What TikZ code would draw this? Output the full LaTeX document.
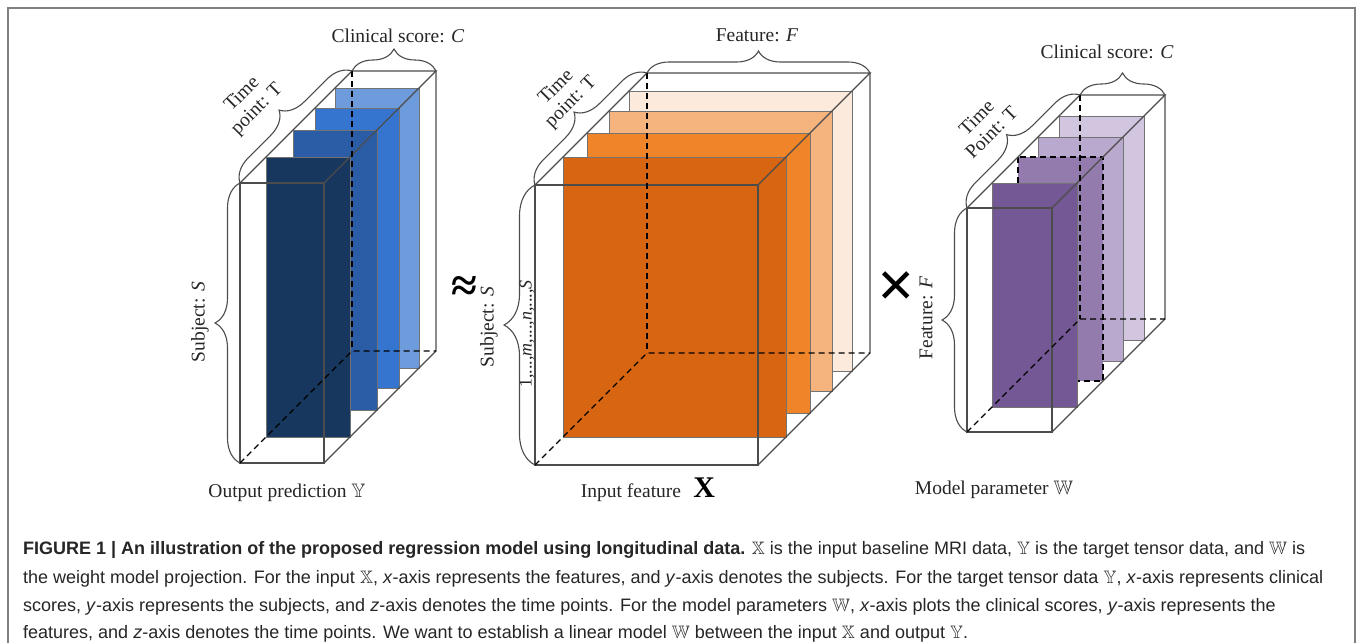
\documentclass[tikz,border=0pt]{standalone}
\usepackage{amssymb}
\usepackage{fontspec}
\setmainfont{Liberation Serif}
\newfontfamily\capfont{Liberation Sans}
\newfontfamily\symfont{DejaVu Sans}
\usetikzlibrary{decorations.pathreplacing}
\definecolor{yA}{HTML}{17375E}
\definecolor{yB}{HTML}{2B5CA6}
\definecolor{yC}{HTML}{3575D0}
\definecolor{yD}{HTML}{6E9BDB}
\definecolor{xA}{HTML}{D86512}
\definecolor{xB}{HTML}{F08428}
\definecolor{xC}{HTML}{F5B47E}
\definecolor{xD}{HTML}{FCEADC}
\definecolor{wA}{HTML}{745895}
\definecolor{wB}{HTML}{937BAE}
\definecolor{wC}{HTML}{B9A9CE}
\definecolor{wD}{HTML}{D1C5E0}
% box corners: name, x, y (front top-left), width, height, depth
\newcommand\tboxcoords[6]{%
  \coordinate (#1-ftl) at (#2,#3);
  \coordinate (#1-ftr) at (#2+#4,#3);
  \coordinate (#1-fbl) at (#2,#3+#5);
  \coordinate (#1-fbr) at (#2+#4,#3+#5);
  \coordinate (#1-btl) at (#2+#6,#3-#6);
  \coordinate (#1-btr) at (#2+#4+#6,#3-#6);
  \coordinate (#1-bbl) at (#2+#6,#3+#5-#6);
  \coordinate (#1-bbr) at (#2+#4+#6,#3+#5-#6);}
\newcommand\tboxedges[1]{%
  \draw[boxedge] (#1-ftl) rectangle (#1-fbr);
  \draw[boxedge] (#1-ftl) -- (#1-btl) -- (#1-btr) -- (#1-ftr);
  \draw[boxedge] (#1-btr) -- (#1-bbr) -- (#1-fbr);
  \draw[hidedge] (#1-fbl) -- (#1-bbl) -- (#1-bbr);
  \draw[hidedge] (#1-btl) -- (#1-bbl);}
% slice: x, y, w, h, offset, colour, extra style
\newcommand\tslice[7]{%
  \filldraw[slicebox, fill=#6, #7] (#1+#5,#2-#5) rectangle ++(#3,#4);}
\begin{document}
\begin{tikzpicture}[x=1pt,y=-1pt,
  boxedge/.style={draw=black!70, line width=1.1pt},
  hidedge/.style={draw=black, line width=1.2pt, dash pattern=on 6pt off 4pt},
  slicebox/.style={draw=black!55, line width=0.7pt},
  brc/.style={draw=black!70, line width=1.1pt, decorate, decoration={brace, amplitude=#1}},
  brc/.default=22pt,
  lbl/.style={font=\fontsize{19.5}{21}\selectfont, text=black!85, inner sep=0pt},
  captext/.style={font=\capfont\fontsize{18}{20}\selectfont, text=black!85, inner sep=0pt, anchor=base west}]
\useasboundingbox (0,0) rectangle (1358,643);
\fill[white] (0,0) rectangle (1358,643);
\draw[black!50, line width=2pt] (8,643) -- (8,8) -- (1355,8) -- (1355,643);

% ---------- output tensor Y ----------
\tboxcoords{Y}{240}{183}{84}{280}{112}
\tslice{240}{183}{84}{280}{95}{yD}{}
\tslice{240}{183}{84}{280}{75}{yC}{}
\tslice{240}{183}{84}{280}{53}{yB}{}
\tslice{240}{183}{84}{280}{26}{yA}{}
\tboxedges{Y}
\draw[brc] (Y-btl) -- (Y-btr);
\draw[brc=24pt] (Y-ftl) -- (Y-btl);
\draw[brc=25pt] (Y-fbl) -- (Y-ftl);
\node[lbl] (yclin) at (398,36) {Clinical score: \textit{C}};
\node[lbl, rotate=45, align=center] (ytime) at (250,102) {Time\\point: T};
\node[lbl, rotate=90] (ysub) at (200,322) {Subject: \textit{S}};
\node[lbl] (yout) at (287,493) {Output prediction $\mathbb{Y}$};

\node[inner sep=0pt, font=\fontsize{47}{47}\selectfont\bfseries] (approx) at (464,289) {≈};

% ---------- input tensor X ----------
\tboxcoords{X}{535}{185}{223}{280}{112}
\tslice{535}{185}{223}{280}{94}{xD}{}
\tslice{535}{185}{223}{280}{74}{xC}{}
\tslice{535}{185}{223}{280}{52}{xB}{}
\tslice{535}{185}{223}{280}{28}{xA}{}
\tboxedges{X}
\draw[brc] (X-btl) -- (X-btr);
\draw[brc=24pt] (X-ftl) -- (X-btl);
\draw[brc=31pt] (X-fbl) -- (X-ftl);
\node[lbl] (xfeat) at (757,35) {Feature: \textit{F}};
\node[lbl, rotate=45, align=center] (xtime) at (564,95) {Time\\point: T};
\node[lbl, rotate=90] (xsub) at (489,327) {Subject: \textit{S}};
\node[lbl, rotate=90, font=\fontsize{18}{20}\selectfont] (xidx) at (527,334) {1,...,\textit{m},...,\textit{n},...,\textit{S}};
\node[lbl] (xin) at (631,493) {Input feature};
\node[inner sep=0pt, anchor=base west, font=\fontsize{30}{30}\selectfont\bfseries, text=black] (xbold) at ([xshift=12pt]xin.base east) {X};

\node[inner sep=0pt, font=\symfont\fontsize{47}{47}\selectfont] (times) at (896,287) {✕};

% ---------- model parameter W ----------
\tboxcoords{W}{967}{208}{85}{224}{113}
\tslice{967}{208}{85}{224}{92}{wD}{}
\tslice{967}{208}{85}{224}{71}{wC}{}
\tslice{967}{208}{85}{224}{51}{wB}{draw=black, line width=1.1pt, dash pattern=on 6pt off 4pt}
\tslice{967}{208}{85}{224}{25}{wA}{}
\tboxedges{W}
\draw[brc] (W-btl) -- (W-btr);
\draw[brc=24pt] (W-ftl) -- (W-btl);
\draw[brc=25pt] (W-fbl) -- (W-ftl);
\node[lbl] (wclin) at (1107,52) {Clinical score: \textit{C}};
\node[lbl, rotate=45, align=center] (wtime) at (984,125) {Time\\Point: T};
\node[lbl, rotate=90] (wfeat) at (926,318) {Feature: \textit{F}};
\node[lbl] (wmodel) at (994,490) {Model parameter $\mathbb{W}$};

% ---------- caption ----------
\node[captext] (c1) at (23,554) {\textbf{FIGURE 1 | An illustration of the proposed regression model using longitudinal data.} $\mathbb{X}$ is the input baseline MRI data, $\mathbb{Y}$ is the target tensor data, and $\mathbb{W}$ is};
\node[captext] (c2) at (23,583) {the weight model projection. For the input $\mathbb{X}$, \textit{x}-axis represents the features, and \textit{y}-axis denotes the subjects. For the target tensor data $\mathbb{Y}$, \textit{x}-axis represents clinical};
\node[captext] (c3) at (23,611) {scores, \textit{y}-axis represents the subjects, and \textit{z}-axis denotes the time points. For the model parameters $\mathbb{W}$, \textit{x}-axis plots the clinical scores, \textit{y}-axis represents the};
\node[captext] (c4) at (23,638) {features, and \textit{z}-axis denotes the time points. We want to establish a linear model $\mathbb{W}$ between the input $\mathbb{X}$ and output $\mathbb{Y}$.};
\end{tikzpicture}
\end{document}
